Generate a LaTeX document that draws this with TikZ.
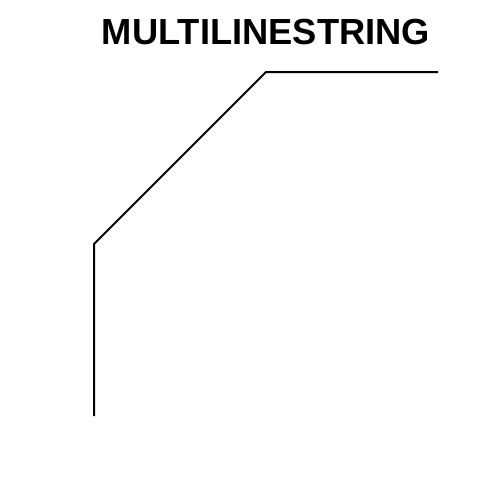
\documentclass[tikz,border=0pt]{standalone}
\usepackage{fontspec}
\setmainfont{Liberation Sans}
\begin{document}
\begin{tikzpicture}[x=1pt,y=-1pt,
  title/.style={font=\bfseries\fontsize{36.3}{40}\selectfont, inner sep=0pt, anchor=base},
  geom/.style={line width=2pt, black}]
\useasboundingbox (0,0) rectangle (504,504);
\node[title] (t) at (266,44.5) {MULTILINESTRING};
\coordinate (p1) at (94,416);
\coordinate (p2) at (94,244);
\coordinate (p3) at (266,72);
\coordinate (p4) at (438,72);
\draw[geom] (p1) -- (p2) -- (p3) -- (p4);
\end{tikzpicture}
\end{document}
